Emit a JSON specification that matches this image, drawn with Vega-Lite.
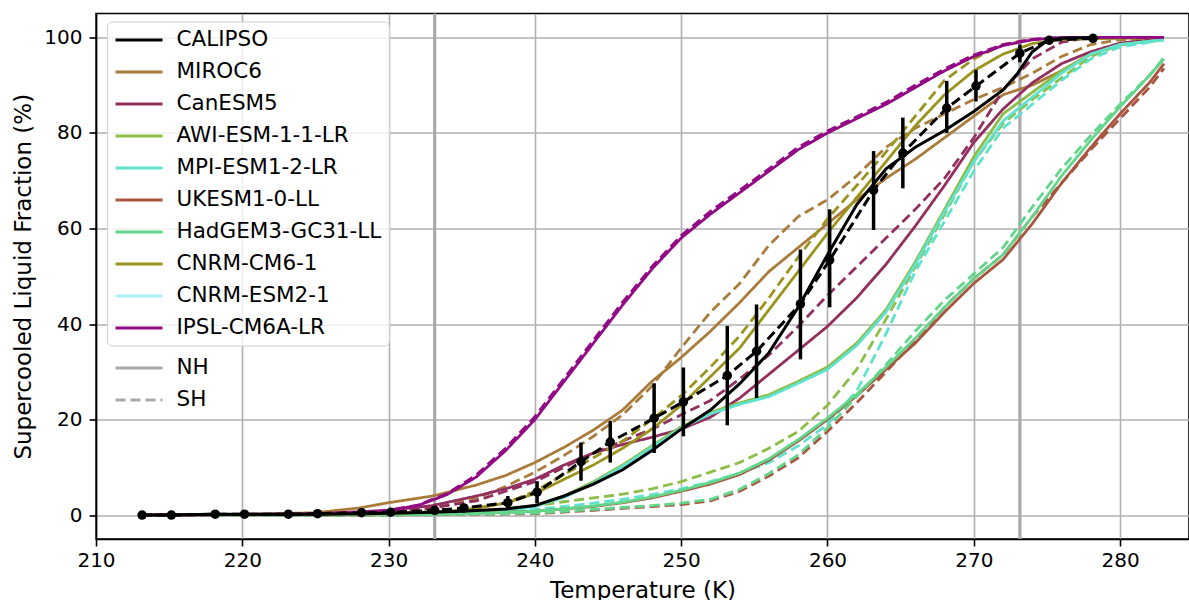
{
"$schema": "https://vega.github.io/schema/vega-lite/v6.json",
"width": 1093, "height": 525.5,
"autosize": {"type": "none"},
"padding": {"left": 96, "top": 13.5, "right": 0, "bottom": 61},
"config": {"font": "DejaVu Sans", "view": {"stroke": "black", "strokeWidth": 1.6},
 "axis": {"domainColor": "black", "domainWidth": 1.6, "tickColor": "black", "tickWidth": 1.6, "tickSize": 7, "labelColor": "black", "labelFontSize": 20, "titleFontSize": 23, "titleFontWeight": "normal", "titleColor": "black", "gridColor": "#b0b0b0", "gridWidth": 1.6}},
"datasets": {
"refs": [{"T": 233.15}, {"T": 273.15}],
"calnh": [{"T":213,"f":0},{"T":215,"f":0},{"T":218,"f":0.2},{"T":220,"f":0.2},{"T":223,"f":0.2},{"T":225,"f":0.2},{"T":228,"f":0.3},{"T":230,"f":0.4},{"T":233,"f":0.6},{"T":235,"f":0.8},{"T":238,"f":1.3},{"T":240,"f":2},{"T":242,"f":4},{"T":244,"f":6.5},{"T":246,"f":9.5},{"T":248,"f":13.5},{"T":250,"f":18},{"T":252,"f":22},{"T":254,"f":27.5},{"T":256,"f":34},{"T":258,"f":43.5},{"T":260,"f":54.5},{"T":262,"f":65},{"T":264,"f":72.5},{"T":266,"f":77},{"T":268,"f":80.5},{"T":270,"f":84.5},{"T":272,"f":89},{"T":273,"f":92.5},{"T":274,"f":97},{"T":275,"f":99.3},{"T":276,"f":99.8},{"T":278,"f":100}],
"calsh": [{"T":213.15,"f":0,"lo":0,"hi":0},{"T":215.15,"f":0,"lo":0,"hi":0},{"T":218.15,"f":0.2,"lo":0.1,"hi":0.3},{"T":220.15,"f":0.2,"lo":0.1,"hi":0.3},{"T":223.15,"f":0.2,"lo":0.1,"hi":0.3},{"T":225.15,"f":0.3,"lo":0.2,"hi":0.4},{"T":228.15,"f":0.5,"lo":0.3,"hi":0.7},{"T":230.15,"f":0.6,"lo":0.4,"hi":0.8},{"T":233.15,"f":1.0,"lo":0.6,"hi":1.4},{"T":235.15,"f":1.5,"lo":0.9,"hi":2.1},{"T":238.15,"f":2.6,"lo":1.2,"hi":4},{"T":240.15,"f":4.8,"lo":2.5,"hi":7.1},{"T":243.15,"f":11.2,"lo":7.2,"hi":15.2},{"T":245.15,"f":15.3,"lo":11,"hi":19.7},{"T":248.15,"f":20.3,"lo":13,"hi":27.6},{"T":250.15,"f":23.7,"lo":16.5,"hi":30.9},{"T":253.15,"f":29.2,"lo":18.8,"hi":39.6},{"T":255.15,"f":34.3,"lo":24.5,"hi":44.1},{"T":258.15,"f":44.2,"lo":32.6,"hi":55.6},{"T":260.15,"f":53.4,"lo":43.5,"hi":64},{"T":263.15,"f":68,"lo":59.7,"hi":76.2},{"T":265.15,"f":75.8,"lo":68.4,"hi":83.2},{"T":268.15,"f":85.2,"lo":80,"hi":90.9},{"T":270.15,"f":89.8,"lo":86.6,"hi":93.2},{"T":273.15,"f":96.7,"lo":94.8,"hi":98.5},{"T":275.15,"f":99.4,"lo":99,"hi":99.8},{"T":278.15,"f":99.8,"lo":99.6,"hi":100}],
"curves": [
{"model":"MIROC6","hemi":"NH","T":213,"f":0},{"model":"MIROC6","hemi":"NH","T":220,"f":0.1},{"model":"MIROC6","hemi":"NH","T":225,"f":0.5},{"model":"MIROC6","hemi":"NH","T":228,"f":1.5},{"model":"MIROC6","hemi":"NH","T":230,"f":2.6},{"model":"MIROC6","hemi":"NH","T":233,"f":4},{"model":"MIROC6","hemi":"NH","T":236,"f":6.3},{"model":"MIROC6","hemi":"NH","T":238,"f":8.3},{"model":"MIROC6","hemi":"NH","T":240,"f":11},{"model":"MIROC6","hemi":"NH","T":242,"f":14.2},{"model":"MIROC6","hemi":"NH","T":244,"f":17.8},{"model":"MIROC6","hemi":"NH","T":246,"f":22},{"model":"MIROC6","hemi":"NH","T":248,"f":28},{"model":"MIROC6","hemi":"NH","T":250,"f":33},{"model":"MIROC6","hemi":"NH","T":252,"f":38.5},{"model":"MIROC6","hemi":"NH","T":254,"f":44.5},{"model":"MIROC6","hemi":"NH","T":256,"f":51},{"model":"MIROC6","hemi":"NH","T":258,"f":56},{"model":"MIROC6","hemi":"NH","T":260,"f":61},{"model":"MIROC6","hemi":"NH","T":262,"f":66},{"model":"MIROC6","hemi":"NH","T":264,"f":70.5},{"model":"MIROC6","hemi":"NH","T":266,"f":74.5},{"model":"MIROC6","hemi":"NH","T":268,"f":79},{"model":"MIROC6","hemi":"NH","T":270,"f":83.5},{"model":"MIROC6","hemi":"NH","T":272,"f":88},{"model":"MIROC6","hemi":"NH","T":274,"f":90},{"model":"MIROC6","hemi":"NH","T":276,"f":93},{"model":"MIROC6","hemi":"NH","T":278,"f":96.5},{"model":"MIROC6","hemi":"NH","T":280,"f":98.5},{"model":"MIROC6","hemi":"NH","T":283,"f":99.8},
{"model":"MIROC6","hemi":"SH","T":213,"f":0},{"model":"MIROC6","hemi":"SH","T":225,"f":0.1},{"model":"MIROC6","hemi":"SH","T":230,"f":0.5},{"model":"MIROC6","hemi":"SH","T":233,"f":1.5},{"model":"MIROC6","hemi":"SH","T":236,"f":3.5},{"model":"MIROC6","hemi":"SH","T":238,"f":6},{"model":"MIROC6","hemi":"SH","T":240,"f":9},{"model":"MIROC6","hemi":"SH","T":242,"f":12.5},{"model":"MIROC6","hemi":"SH","T":244,"f":16.5},{"model":"MIROC6","hemi":"SH","T":246,"f":21},{"model":"MIROC6","hemi":"SH","T":248,"f":27},{"model":"MIROC6","hemi":"SH","T":250,"f":35},{"model":"MIROC6","hemi":"SH","T":252,"f":42.5},{"model":"MIROC6","hemi":"SH","T":254,"f":48.5},{"model":"MIROC6","hemi":"SH","T":256,"f":56.5},{"model":"MIROC6","hemi":"SH","T":258,"f":62.5},{"model":"MIROC6","hemi":"SH","T":260,"f":66},{"model":"MIROC6","hemi":"SH","T":262,"f":71},{"model":"MIROC6","hemi":"SH","T":264,"f":77},{"model":"MIROC6","hemi":"SH","T":266,"f":81},{"model":"MIROC6","hemi":"SH","T":268,"f":84},{"model":"MIROC6","hemi":"SH","T":270,"f":87},{"model":"MIROC6","hemi":"SH","T":272,"f":89.5},{"model":"MIROC6","hemi":"SH","T":274,"f":92.5},{"model":"MIROC6","hemi":"SH","T":276,"f":96},{"model":"MIROC6","hemi":"SH","T":278,"f":98.5},{"model":"MIROC6","hemi":"SH","T":280,"f":99.5},{"model":"MIROC6","hemi":"SH","T":283,"f":100},
{"model":"CanESM5","hemi":"NH","T":213,"f":0},{"model":"CanESM5","hemi":"NH","T":225,"f":0.3},{"model":"CanESM5","hemi":"NH","T":230,"f":1},{"model":"CanESM5","hemi":"NH","T":233,"f":2},{"model":"CanESM5","hemi":"NH","T":236,"f":4},{"model":"CanESM5","hemi":"NH","T":238,"f":5.5},{"model":"CanESM5","hemi":"NH","T":240,"f":7.5},{"model":"CanESM5","hemi":"NH","T":242,"f":10.5},{"model":"CanESM5","hemi":"NH","T":244,"f":13},{"model":"CanESM5","hemi":"NH","T":246,"f":14.8},{"model":"CanESM5","hemi":"NH","T":248,"f":16.3},{"model":"CanESM5","hemi":"NH","T":250,"f":18},{"model":"CanESM5","hemi":"NH","T":252,"f":20.5},{"model":"CanESM5","hemi":"NH","T":254,"f":24.5},{"model":"CanESM5","hemi":"NH","T":256,"f":29.5},{"model":"CanESM5","hemi":"NH","T":258,"f":34.5},{"model":"CanESM5","hemi":"NH","T":260,"f":39.5},{"model":"CanESM5","hemi":"NH","T":262,"f":45.5},{"model":"CanESM5","hemi":"NH","T":264,"f":52.5},{"model":"CanESM5","hemi":"NH","T":266,"f":60.5},{"model":"CanESM5","hemi":"NH","T":268,"f":69},{"model":"CanESM5","hemi":"NH","T":270,"f":78},{"model":"CanESM5","hemi":"NH","T":272,"f":85},{"model":"CanESM5","hemi":"NH","T":274,"f":90.5},{"model":"CanESM5","hemi":"NH","T":276,"f":94.5},{"model":"CanESM5","hemi":"NH","T":278,"f":97},{"model":"CanESM5","hemi":"NH","T":280,"f":98.8},{"model":"CanESM5","hemi":"NH","T":283,"f":99.8},
{"model":"CanESM5","hemi":"SH","T":213,"f":0},{"model":"CanESM5","hemi":"SH","T":225,"f":0.2},{"model":"CanESM5","hemi":"SH","T":230,"f":0.7},{"model":"CanESM5","hemi":"SH","T":233,"f":1.5},{"model":"CanESM5","hemi":"SH","T":236,"f":3},{"model":"CanESM5","hemi":"SH","T":238,"f":5},{"model":"CanESM5","hemi":"SH","T":240,"f":7},{"model":"CanESM5","hemi":"SH","T":242,"f":10},{"model":"CanESM5","hemi":"SH","T":244,"f":13},{"model":"CanESM5","hemi":"SH","T":246,"f":15.5},{"model":"CanESM5","hemi":"SH","T":248,"f":18},{"model":"CanESM5","hemi":"SH","T":250,"f":21},{"model":"CanESM5","hemi":"SH","T":252,"f":24},{"model":"CanESM5","hemi":"SH","T":254,"f":28.5},{"model":"CanESM5","hemi":"SH","T":256,"f":33.5},{"model":"CanESM5","hemi":"SH","T":258,"f":39.5},{"model":"CanESM5","hemi":"SH","T":260,"f":46},{"model":"CanESM5","hemi":"SH","T":262,"f":52},{"model":"CanESM5","hemi":"SH","T":264,"f":58},{"model":"CanESM5","hemi":"SH","T":266,"f":64},{"model":"CanESM5","hemi":"SH","T":268,"f":70.5},{"model":"CanESM5","hemi":"SH","T":270,"f":79},{"model":"CanESM5","hemi":"SH","T":272,"f":89},{"model":"CanESM5","hemi":"SH","T":274,"f":95.5},{"model":"CanESM5","hemi":"SH","T":276,"f":99},{"model":"CanESM5","hemi":"SH","T":278,"f":100},{"model":"CanESM5","hemi":"SH","T":283,"f":100},
{"model":"AWI-ESM-1-1-LR","hemi":"NH","T":213,"f":0},{"model":"AWI-ESM-1-1-LR","hemi":"NH","T":230,"f":0.1},{"model":"AWI-ESM-1-1-LR","hemi":"NH","T":235,"f":0.5},{"model":"AWI-ESM-1-1-LR","hemi":"NH","T":238,"f":1},{"model":"AWI-ESM-1-1-LR","hemi":"NH","T":240,"f":2},{"model":"AWI-ESM-1-1-LR","hemi":"NH","T":242,"f":4},{"model":"AWI-ESM-1-1-LR","hemi":"NH","T":244,"f":7},{"model":"AWI-ESM-1-1-LR","hemi":"NH","T":246,"f":10.5},{"model":"AWI-ESM-1-1-LR","hemi":"NH","T":248,"f":14.5},{"model":"AWI-ESM-1-1-LR","hemi":"NH","T":250,"f":18.5},{"model":"AWI-ESM-1-1-LR","hemi":"NH","T":252,"f":21.5},{"model":"AWI-ESM-1-1-LR","hemi":"NH","T":254,"f":23.5},{"model":"AWI-ESM-1-1-LR","hemi":"NH","T":256,"f":25.2},{"model":"AWI-ESM-1-1-LR","hemi":"NH","T":258,"f":28},{"model":"AWI-ESM-1-1-LR","hemi":"NH","T":260,"f":31},{"model":"AWI-ESM-1-1-LR","hemi":"NH","T":262,"f":36},{"model":"AWI-ESM-1-1-LR","hemi":"NH","T":264,"f":43},{"model":"AWI-ESM-1-1-LR","hemi":"NH","T":266,"f":53},{"model":"AWI-ESM-1-1-LR","hemi":"NH","T":268,"f":64},{"model":"AWI-ESM-1-1-LR","hemi":"NH","T":270,"f":75},{"model":"AWI-ESM-1-1-LR","hemi":"NH","T":272,"f":84},{"model":"AWI-ESM-1-1-LR","hemi":"NH","T":274,"f":88.5},{"model":"AWI-ESM-1-1-LR","hemi":"NH","T":276,"f":93},{"model":"AWI-ESM-1-1-LR","hemi":"NH","T":278,"f":96.5},{"model":"AWI-ESM-1-1-LR","hemi":"NH","T":280,"f":98.5},{"model":"AWI-ESM-1-1-LR","hemi":"NH","T":283,"f":99.5},
{"model":"AWI-ESM-1-1-LR","hemi":"SH","T":213,"f":0},{"model":"AWI-ESM-1-1-LR","hemi":"SH","T":230,"f":0.2},{"model":"AWI-ESM-1-1-LR","hemi":"SH","T":235,"f":0.7},{"model":"AWI-ESM-1-1-LR","hemi":"SH","T":238,"f":1.2},{"model":"AWI-ESM-1-1-LR","hemi":"SH","T":240,"f":2},{"model":"AWI-ESM-1-1-LR","hemi":"SH","T":242,"f":2.8},{"model":"AWI-ESM-1-1-LR","hemi":"SH","T":244,"f":3.6},{"model":"AWI-ESM-1-1-LR","hemi":"SH","T":246,"f":4.4},{"model":"AWI-ESM-1-1-LR","hemi":"SH","T":248,"f":5.5},{"model":"AWI-ESM-1-1-LR","hemi":"SH","T":250,"f":7},{"model":"AWI-ESM-1-1-LR","hemi":"SH","T":252,"f":9},{"model":"AWI-ESM-1-1-LR","hemi":"SH","T":254,"f":11},{"model":"AWI-ESM-1-1-LR","hemi":"SH","T":256,"f":14},{"model":"AWI-ESM-1-1-LR","hemi":"SH","T":258,"f":17.5},{"model":"AWI-ESM-1-1-LR","hemi":"SH","T":260,"f":23},{"model":"AWI-ESM-1-1-LR","hemi":"SH","T":262,"f":30.5},{"model":"AWI-ESM-1-1-LR","hemi":"SH","T":264,"f":41},{"model":"AWI-ESM-1-1-LR","hemi":"SH","T":266,"f":52},{"model":"AWI-ESM-1-1-LR","hemi":"SH","T":268,"f":63},{"model":"AWI-ESM-1-1-LR","hemi":"SH","T":270,"f":74},{"model":"AWI-ESM-1-1-LR","hemi":"SH","T":272,"f":82},{"model":"AWI-ESM-1-1-LR","hemi":"SH","T":274,"f":87},{"model":"AWI-ESM-1-1-LR","hemi":"SH","T":276,"f":91.5},{"model":"AWI-ESM-1-1-LR","hemi":"SH","T":278,"f":96},{"model":"AWI-ESM-1-1-LR","hemi":"SH","T":280,"f":98.5},{"model":"AWI-ESM-1-1-LR","hemi":"SH","T":283,"f":99.5},
{"model":"MPI-ESM1-2-LR","hemi":"NH","T":213,"f":0},{"model":"MPI-ESM1-2-LR","hemi":"NH","T":230,"f":0.1},{"model":"MPI-ESM1-2-LR","hemi":"NH","T":235,"f":0.4},{"model":"MPI-ESM1-2-LR","hemi":"NH","T":238,"f":0.9},{"model":"MPI-ESM1-2-LR","hemi":"NH","T":240,"f":1.8},{"model":"MPI-ESM1-2-LR","hemi":"NH","T":242,"f":3.7},{"model":"MPI-ESM1-2-LR","hemi":"NH","T":244,"f":6.7},{"model":"MPI-ESM1-2-LR","hemi":"NH","T":246,"f":10.2},{"model":"MPI-ESM1-2-LR","hemi":"NH","T":248,"f":14.2},{"model":"MPI-ESM1-2-LR","hemi":"NH","T":250,"f":18.2},{"model":"MPI-ESM1-2-LR","hemi":"NH","T":252,"f":21.2},{"model":"MPI-ESM1-2-LR","hemi":"NH","T":254,"f":23.2},{"model":"MPI-ESM1-2-LR","hemi":"NH","T":256,"f":24.8},{"model":"MPI-ESM1-2-LR","hemi":"NH","T":258,"f":27.6},{"model":"MPI-ESM1-2-LR","hemi":"NH","T":260,"f":30.5},{"model":"MPI-ESM1-2-LR","hemi":"NH","T":262,"f":35.5},{"model":"MPI-ESM1-2-LR","hemi":"NH","T":264,"f":42.5},{"model":"MPI-ESM1-2-LR","hemi":"NH","T":266,"f":52.5},{"model":"MPI-ESM1-2-LR","hemi":"NH","T":268,"f":63.5},{"model":"MPI-ESM1-2-LR","hemi":"NH","T":270,"f":74},{"model":"MPI-ESM1-2-LR","hemi":"NH","T":272,"f":82.5},{"model":"MPI-ESM1-2-LR","hemi":"NH","T":274,"f":87.5},{"model":"MPI-ESM1-2-LR","hemi":"NH","T":276,"f":92.5},{"model":"MPI-ESM1-2-LR","hemi":"NH","T":278,"f":96.5},{"model":"MPI-ESM1-2-LR","hemi":"NH","T":280,"f":98.5},{"model":"MPI-ESM1-2-LR","hemi":"NH","T":283,"f":99.5},
{"model":"MPI-ESM1-2-LR","hemi":"SH","T":213,"f":0},{"model":"MPI-ESM1-2-LR","hemi":"SH","T":230,"f":0.1},{"model":"MPI-ESM1-2-LR","hemi":"SH","T":235,"f":0.5},{"model":"MPI-ESM1-2-LR","hemi":"SH","T":238,"f":0.8},{"model":"MPI-ESM1-2-LR","hemi":"SH","T":240,"f":1.2},{"model":"MPI-ESM1-2-LR","hemi":"SH","T":242,"f":1.8},{"model":"MPI-ESM1-2-LR","hemi":"SH","T":244,"f":2.5},{"model":"MPI-ESM1-2-LR","hemi":"SH","T":246,"f":3.3},{"model":"MPI-ESM1-2-LR","hemi":"SH","T":248,"f":4.3},{"model":"MPI-ESM1-2-LR","hemi":"SH","T":250,"f":5.5},{"model":"MPI-ESM1-2-LR","hemi":"SH","T":252,"f":7},{"model":"MPI-ESM1-2-LR","hemi":"SH","T":254,"f":8.8},{"model":"MPI-ESM1-2-LR","hemi":"SH","T":256,"f":11},{"model":"MPI-ESM1-2-LR","hemi":"SH","T":258,"f":14.5},{"model":"MPI-ESM1-2-LR","hemi":"SH","T":260,"f":19},{"model":"MPI-ESM1-2-LR","hemi":"SH","T":262,"f":26},{"model":"MPI-ESM1-2-LR","hemi":"SH","T":264,"f":38},{"model":"MPI-ESM1-2-LR","hemi":"SH","T":266,"f":51},{"model":"MPI-ESM1-2-LR","hemi":"SH","T":268,"f":61.5},{"model":"MPI-ESM1-2-LR","hemi":"SH","T":270,"f":72},{"model":"MPI-ESM1-2-LR","hemi":"SH","T":272,"f":81},{"model":"MPI-ESM1-2-LR","hemi":"SH","T":274,"f":86},{"model":"MPI-ESM1-2-LR","hemi":"SH","T":276,"f":91},{"model":"MPI-ESM1-2-LR","hemi":"SH","T":278,"f":95.5},{"model":"MPI-ESM1-2-LR","hemi":"SH","T":280,"f":98},{"model":"MPI-ESM1-2-LR","hemi":"SH","T":283,"f":99.5},
{"model":"UKESM1-0-LL","hemi":"NH","T":213,"f":0},{"model":"UKESM1-0-LL","hemi":"NH","T":230,"f":0.1},{"model":"UKESM1-0-LL","hemi":"NH","T":235,"f":0.3},{"model":"UKESM1-0-LL","hemi":"NH","T":240,"f":0.8},{"model":"UKESM1-0-LL","hemi":"NH","T":244,"f":1.8},{"model":"UKESM1-0-LL","hemi":"NH","T":246,"f":2.6},{"model":"UKESM1-0-LL","hemi":"NH","T":248,"f":3.6},{"model":"UKESM1-0-LL","hemi":"NH","T":250,"f":5},{"model":"UKESM1-0-LL","hemi":"NH","T":252,"f":6.5},{"model":"UKESM1-0-LL","hemi":"NH","T":254,"f":8.5},{"model":"UKESM1-0-LL","hemi":"NH","T":256,"f":11.5},{"model":"UKESM1-0-LL","hemi":"NH","T":258,"f":15.5},{"model":"UKESM1-0-LL","hemi":"NH","T":260,"f":20},{"model":"UKESM1-0-LL","hemi":"NH","T":262,"f":25},{"model":"UKESM1-0-LL","hemi":"NH","T":264,"f":30.5},{"model":"UKESM1-0-LL","hemi":"NH","T":266,"f":36},{"model":"UKESM1-0-LL","hemi":"NH","T":268,"f":42.5},{"model":"UKESM1-0-LL","hemi":"NH","T":270,"f":48.5},{"model":"UKESM1-0-LL","hemi":"NH","T":272,"f":53.5},{"model":"UKESM1-0-LL","hemi":"NH","T":274,"f":61},{"model":"UKESM1-0-LL","hemi":"NH","T":276,"f":69.5},{"model":"UKESM1-0-LL","hemi":"NH","T":278,"f":77},{"model":"UKESM1-0-LL","hemi":"NH","T":280,"f":84},{"model":"UKESM1-0-LL","hemi":"NH","T":282,"f":90.5},{"model":"UKESM1-0-LL","hemi":"NH","T":283,"f":94.5},
{"model":"UKESM1-0-LL","hemi":"SH","T":213,"f":0},{"model":"UKESM1-0-LL","hemi":"SH","T":230,"f":0},{"model":"UKESM1-0-LL","hemi":"SH","T":240,"f":0.3},{"model":"UKESM1-0-LL","hemi":"SH","T":244,"f":1},{"model":"UKESM1-0-LL","hemi":"SH","T":248,"f":1.8},{"model":"UKESM1-0-LL","hemi":"SH","T":250,"f":2.2},{"model":"UKESM1-0-LL","hemi":"SH","T":252,"f":3},{"model":"UKESM1-0-LL","hemi":"SH","T":254,"f":5},{"model":"UKESM1-0-LL","hemi":"SH","T":256,"f":8.2},{"model":"UKESM1-0-LL","hemi":"SH","T":258,"f":12},{"model":"UKESM1-0-LL","hemi":"SH","T":260,"f":17.5},{"model":"UKESM1-0-LL","hemi":"SH","T":262,"f":23.5},{"model":"UKESM1-0-LL","hemi":"SH","T":264,"f":30},{"model":"UKESM1-0-LL","hemi":"SH","T":266,"f":36.5},{"model":"UKESM1-0-LL","hemi":"SH","T":268,"f":43.5},{"model":"UKESM1-0-LL","hemi":"SH","T":270,"f":49.5},{"model":"UKESM1-0-LL","hemi":"SH","T":272,"f":54.5},{"model":"UKESM1-0-LL","hemi":"SH","T":274,"f":62.5},{"model":"UKESM1-0-LL","hemi":"SH","T":276,"f":69.5},{"model":"UKESM1-0-LL","hemi":"SH","T":278,"f":76.5},{"model":"UKESM1-0-LL","hemi":"SH","T":280,"f":83},{"model":"UKESM1-0-LL","hemi":"SH","T":282,"f":89.5},{"model":"UKESM1-0-LL","hemi":"SH","T":283,"f":93.5},
{"model":"HadGEM3-GC31-LL","hemi":"NH","T":213,"f":0},{"model":"HadGEM3-GC31-LL","hemi":"NH","T":230,"f":0.1},{"model":"HadGEM3-GC31-LL","hemi":"NH","T":235,"f":0.3},{"model":"HadGEM3-GC31-LL","hemi":"NH","T":240,"f":0.8},{"model":"HadGEM3-GC31-LL","hemi":"NH","T":244,"f":1.9},{"model":"HadGEM3-GC31-LL","hemi":"NH","T":246,"f":2.7},{"model":"HadGEM3-GC31-LL","hemi":"NH","T":248,"f":3.8},{"model":"HadGEM3-GC31-LL","hemi":"NH","T":250,"f":5.2},{"model":"HadGEM3-GC31-LL","hemi":"NH","T":252,"f":6.8},{"model":"HadGEM3-GC31-LL","hemi":"NH","T":254,"f":8.8},{"model":"HadGEM3-GC31-LL","hemi":"NH","T":256,"f":11.8},{"model":"HadGEM3-GC31-LL","hemi":"NH","T":258,"f":15.8},{"model":"HadGEM3-GC31-LL","hemi":"NH","T":260,"f":20.3},{"model":"HadGEM3-GC31-LL","hemi":"NH","T":262,"f":25.3},{"model":"HadGEM3-GC31-LL","hemi":"NH","T":264,"f":31},{"model":"HadGEM3-GC31-LL","hemi":"NH","T":266,"f":37},{"model":"HadGEM3-GC31-LL","hemi":"NH","T":268,"f":43.5},{"model":"HadGEM3-GC31-LL","hemi":"NH","T":270,"f":49.5},{"model":"HadGEM3-GC31-LL","hemi":"NH","T":272,"f":54.5},{"model":"HadGEM3-GC31-LL","hemi":"NH","T":274,"f":62.5},{"model":"HadGEM3-GC31-LL","hemi":"NH","T":276,"f":71},{"model":"HadGEM3-GC31-LL","hemi":"NH","T":278,"f":78.5},{"model":"HadGEM3-GC31-LL","hemi":"NH","T":280,"f":85.5},{"model":"HadGEM3-GC31-LL","hemi":"NH","T":282,"f":92},{"model":"HadGEM3-GC31-LL","hemi":"NH","T":283,"f":95.5},
{"model":"HadGEM3-GC31-LL","hemi":"SH","T":213,"f":0},{"model":"HadGEM3-GC31-LL","hemi":"SH","T":230,"f":0},{"model":"HadGEM3-GC31-LL","hemi":"SH","T":240,"f":0.4},{"model":"HadGEM3-GC31-LL","hemi":"SH","T":244,"f":1.2},{"model":"HadGEM3-GC31-LL","hemi":"SH","T":248,"f":2},{"model":"HadGEM3-GC31-LL","hemi":"SH","T":250,"f":2.5},{"model":"HadGEM3-GC31-LL","hemi":"SH","T":252,"f":3.3},{"model":"HadGEM3-GC31-LL","hemi":"SH","T":254,"f":5.4},{"model":"HadGEM3-GC31-LL","hemi":"SH","T":256,"f":8.7},{"model":"HadGEM3-GC31-LL","hemi":"SH","T":258,"f":12.6},{"model":"HadGEM3-GC31-LL","hemi":"SH","T":260,"f":18.3},{"model":"HadGEM3-GC31-LL","hemi":"SH","T":262,"f":24.8},{"model":"HadGEM3-GC31-LL","hemi":"SH","T":264,"f":31.5},{"model":"HadGEM3-GC31-LL","hemi":"SH","T":266,"f":38.5},{"model":"HadGEM3-GC31-LL","hemi":"SH","T":268,"f":45},{"model":"HadGEM3-GC31-LL","hemi":"SH","T":270,"f":50.5},{"model":"HadGEM3-GC31-LL","hemi":"SH","T":272,"f":56},{"model":"HadGEM3-GC31-LL","hemi":"SH","T":274,"f":64.5},{"model":"HadGEM3-GC31-LL","hemi":"SH","T":276,"f":72.5},{"model":"HadGEM3-GC31-LL","hemi":"SH","T":278,"f":79.5},{"model":"HadGEM3-GC31-LL","hemi":"SH","T":280,"f":86},{"model":"HadGEM3-GC31-LL","hemi":"SH","T":282,"f":92},{"model":"HadGEM3-GC31-LL","hemi":"SH","T":283,"f":95.8},
{"model":"CNRM-CM6-1","hemi":"NH","T":213,"f":0},{"model":"CNRM-CM6-1","hemi":"NH","T":230,"f":0.3},{"model":"CNRM-CM6-1","hemi":"NH","T":235,"f":1},{"model":"CNRM-CM6-1","hemi":"NH","T":238,"f":2.5},{"model":"CNRM-CM6-1","hemi":"NH","T":240,"f":4.5},{"model":"CNRM-CM6-1","hemi":"NH","T":242,"f":7.5},{"model":"CNRM-CM6-1","hemi":"NH","T":244,"f":10.5},{"model":"CNRM-CM6-1","hemi":"NH","T":246,"f":14},{"model":"CNRM-CM6-1","hemi":"NH","T":248,"f":18},{"model":"CNRM-CM6-1","hemi":"NH","T":250,"f":23},{"model":"CNRM-CM6-1","hemi":"NH","T":252,"f":29},{"model":"CNRM-CM6-1","hemi":"NH","T":254,"f":35},{"model":"CNRM-CM6-1","hemi":"NH","T":256,"f":43},{"model":"CNRM-CM6-1","hemi":"NH","T":258,"f":51},{"model":"CNRM-CM6-1","hemi":"NH","T":260,"f":59},{"model":"CNRM-CM6-1","hemi":"NH","T":262,"f":66.5},{"model":"CNRM-CM6-1","hemi":"NH","T":264,"f":74},{"model":"CNRM-CM6-1","hemi":"NH","T":266,"f":81.5},{"model":"CNRM-CM6-1","hemi":"NH","T":268,"f":88},{"model":"CNRM-CM6-1","hemi":"NH","T":270,"f":93},{"model":"CNRM-CM6-1","hemi":"NH","T":272,"f":96.5},{"model":"CNRM-CM6-1","hemi":"NH","T":274,"f":98.7},{"model":"CNRM-CM6-1","hemi":"NH","T":276,"f":99.6},{"model":"CNRM-CM6-1","hemi":"NH","T":283,"f":100},
{"model":"CNRM-CM6-1","hemi":"SH","T":213,"f":0},{"model":"CNRM-CM6-1","hemi":"SH","T":230,"f":0.3},{"model":"CNRM-CM6-1","hemi":"SH","T":235,"f":1},{"model":"CNRM-CM6-1","hemi":"SH","T":238,"f":2.5},{"model":"CNRM-CM6-1","hemi":"SH","T":240,"f":5},{"model":"CNRM-CM6-1","hemi":"SH","T":242,"f":8.5},{"model":"CNRM-CM6-1","hemi":"SH","T":244,"f":12},{"model":"CNRM-CM6-1","hemi":"SH","T":246,"f":15.5},{"model":"CNRM-CM6-1","hemi":"SH","T":248,"f":20},{"model":"CNRM-CM6-1","hemi":"SH","T":250,"f":25},{"model":"CNRM-CM6-1","hemi":"SH","T":252,"f":31},{"model":"CNRM-CM6-1","hemi":"SH","T":254,"f":37.5},{"model":"CNRM-CM6-1","hemi":"SH","T":256,"f":45.5},{"model":"CNRM-CM6-1","hemi":"SH","T":258,"f":54},{"model":"CNRM-CM6-1","hemi":"SH","T":260,"f":62},{"model":"CNRM-CM6-1","hemi":"SH","T":262,"f":69},{"model":"CNRM-CM6-1","hemi":"SH","T":264,"f":76},{"model":"CNRM-CM6-1","hemi":"SH","T":266,"f":83.5},{"model":"CNRM-CM6-1","hemi":"SH","T":268,"f":91},{"model":"CNRM-CM6-1","hemi":"SH","T":270,"f":95.5},{"model":"CNRM-CM6-1","hemi":"SH","T":272,"f":98.5},{"model":"CNRM-CM6-1","hemi":"SH","T":274,"f":99.6},{"model":"CNRM-CM6-1","hemi":"SH","T":283,"f":100},
{"model":"IPSL-CM6A-LR","hemi":"NH","T":213,"f":0},{"model":"IPSL-CM6A-LR","hemi":"NH","T":225,"f":0.2},{"model":"IPSL-CM6A-LR","hemi":"NH","T":228,"f":0.5},{"model":"IPSL-CM6A-LR","hemi":"NH","T":230,"f":1},{"model":"IPSL-CM6A-LR","hemi":"NH","T":232,"f":2},{"model":"IPSL-CM6A-LR","hemi":"NH","T":234,"f":4.3},{"model":"IPSL-CM6A-LR","hemi":"NH","T":236,"f":8},{"model":"IPSL-CM6A-LR","hemi":"NH","T":238,"f":13.5},{"model":"IPSL-CM6A-LR","hemi":"NH","T":240,"f":20},{"model":"IPSL-CM6A-LR","hemi":"NH","T":242,"f":28},{"model":"IPSL-CM6A-LR","hemi":"NH","T":244,"f":36},{"model":"IPSL-CM6A-LR","hemi":"NH","T":246,"f":44},{"model":"IPSL-CM6A-LR","hemi":"NH","T":248,"f":51.5},{"model":"IPSL-CM6A-LR","hemi":"NH","T":250,"f":58},{"model":"IPSL-CM6A-LR","hemi":"NH","T":252,"f":63},{"model":"IPSL-CM6A-LR","hemi":"NH","T":254,"f":67.5},{"model":"IPSL-CM6A-LR","hemi":"NH","T":256,"f":72},{"model":"IPSL-CM6A-LR","hemi":"NH","T":258,"f":76.5},{"model":"IPSL-CM6A-LR","hemi":"NH","T":260,"f":80},{"model":"IPSL-CM6A-LR","hemi":"NH","T":262,"f":83},{"model":"IPSL-CM6A-LR","hemi":"NH","T":264,"f":86},{"model":"IPSL-CM6A-LR","hemi":"NH","T":266,"f":89.5},{"model":"IPSL-CM6A-LR","hemi":"NH","T":268,"f":93},{"model":"IPSL-CM6A-LR","hemi":"NH","T":270,"f":96},{"model":"IPSL-CM6A-LR","hemi":"NH","T":272,"f":98.3},{"model":"IPSL-CM6A-LR","hemi":"NH","T":274,"f":99.5},{"model":"IPSL-CM6A-LR","hemi":"NH","T":276,"f":100},{"model":"IPSL-CM6A-LR","hemi":"NH","T":283,"f":100},
{"model":"IPSL-CM6A-LR","hemi":"SH","T":213,"f":0},{"model":"IPSL-CM6A-LR","hemi":"SH","T":225,"f":0.2},{"model":"IPSL-CM6A-LR","hemi":"SH","T":228,"f":0.5},{"model":"IPSL-CM6A-LR","hemi":"SH","T":230,"f":1},{"model":"IPSL-CM6A-LR","hemi":"SH","T":232,"f":2.1},{"model":"IPSL-CM6A-LR","hemi":"SH","T":234,"f":4.5},{"model":"IPSL-CM6A-LR","hemi":"SH","T":236,"f":8.4},{"model":"IPSL-CM6A-LR","hemi":"SH","T":238,"f":14},{"model":"IPSL-CM6A-LR","hemi":"SH","T":240,"f":20.6},{"model":"IPSL-CM6A-LR","hemi":"SH","T":242,"f":28.6},{"model":"IPSL-CM6A-LR","hemi":"SH","T":244,"f":36.6},{"model":"IPSL-CM6A-LR","hemi":"SH","T":246,"f":44.6},{"model":"IPSL-CM6A-LR","hemi":"SH","T":248,"f":52},{"model":"IPSL-CM6A-LR","hemi":"SH","T":250,"f":58.5},{"model":"IPSL-CM6A-LR","hemi":"SH","T":252,"f":63.6},{"model":"IPSL-CM6A-LR","hemi":"SH","T":254,"f":68},{"model":"IPSL-CM6A-LR","hemi":"SH","T":256,"f":72.5},{"model":"IPSL-CM6A-LR","hemi":"SH","T":258,"f":77},{"model":"IPSL-CM6A-LR","hemi":"SH","T":260,"f":80.4},{"model":"IPSL-CM6A-LR","hemi":"SH","T":262,"f":83.4},{"model":"IPSL-CM6A-LR","hemi":"SH","T":264,"f":86.4},{"model":"IPSL-CM6A-LR","hemi":"SH","T":266,"f":90},{"model":"IPSL-CM6A-LR","hemi":"SH","T":268,"f":93.4},{"model":"IPSL-CM6A-LR","hemi":"SH","T":270,"f":96.3},{"model":"IPSL-CM6A-LR","hemi":"SH","T":272,"f":98.5},{"model":"IPSL-CM6A-LR","hemi":"SH","T":274,"f":99.6},{"model":"IPSL-CM6A-LR","hemi":"SH","T":276,"f":100},{"model":"IPSL-CM6A-LR","hemi":"SH","T":283,"f":100}
]},
"encoding": {
 "x": {"field": "T", "type": "quantitative", "scale": {"domain": [210, 284.71], "nice": false, "zero": false},
  "axis": {"values": [210,220,230,240,250,260,270,280], "title": "Temperature (K)", "labelPadding": 4, "titlePadding": 9, "labelFlush": false}},
 "y": {"field": "f", "type": "quantitative", "scale": {"domain": [-5, 105], "nice": false, "zero": false},
  "axis": {"values": [0,20,40,60,80,100], "title": "Supercooled Liquid Fraction (%)", "labelPadding": 7, "titlePadding": 8, "labelFlush": false}}
},
"layer": [
 {"data": {"name": "refs"}, "mark": {"type": "rule", "color": "#a9a9a9", "strokeWidth": 3.2}, "encoding": {"y": null}},
 {"data": {"name": "curves"}, "mark": {"type": "line", "strokeWidth": 2.8},
  "encoding": {
   "color": {"field": "model", "type": "nominal",
    "scale": {"domain": ["CALIPSO","MIROC6","CanESM5","AWI-ESM-1-1-LR","MPI-ESM1-2-LR","UKESM1-0-LL","HadGEM3-GC31-LL","CNRM-CM6-1","CNRM-ESM2-1","IPSL-CM6A-LR"],
     "range": ["#000000","#a97c3c","#932f5f","#8cbd47","#5fe3cf","#a8553f","#62d68a","#9a941e","#aef0f8","#930a85"]},
    "legend": {"title": null, "orient": "none", "legendX": 11, "legendY": 8, "symbolType": "M-2.35,0H2.35", "symbolSize": 400, "symbolOffset": 13.5, "symbolStrokeWidth": 3, "labelFontSize": 21.5, "labelColor": "black", "labelOffset": 26, "labelLimit": 500, "rowPadding": 10, "padding": 7, "fillColor": "rgba(255,255,255,0.8)", "strokeColor": "#d0d0d0", "cornerRadius": 5}},
   "strokeDash": {"field": "hemi", "type": "nominal", "scale": {"domain": ["NH","SH"], "range": [[1,0],[10,5]]},
    "legend": {"title": null, "orient": "none", "legendX": 11, "legendY": 336, "symbolType": "M-2.35,0H2.35", "symbolSize": 400, "symbolOffset": 13.5, "symbolStrokeWidth": 3, "symbolStrokeColor": "#a9a9a9", "labelFontSize": 21.5, "labelColor": "black", "labelOffset": 26, "labelLimit": 500, "rowPadding": 10, "padding": 7}},
   "detail": {"field": "hemi"}
  }},
 {"data": {"name": "calnh"}, "mark": {"type": "line", "color": "black", "strokeWidth": 3}},
 {"data": {"name": "calsh"}, "mark": {"type": "line", "color": "black", "strokeWidth": 3, "strokeDash": [10,5]}},
 {"data": {"name": "calsh"}, "mark": {"type": "rule", "color": "black", "strokeWidth": 3.5}, "encoding": {"y": {"field": "lo", "type": "quantitative"}, "y2": {"field": "hi"}}},
 {"data": {"name": "calsh"}, "mark": {"type": "point", "filled": true, "color": "black", "size": 90, "opacity": 1}}
]
}
